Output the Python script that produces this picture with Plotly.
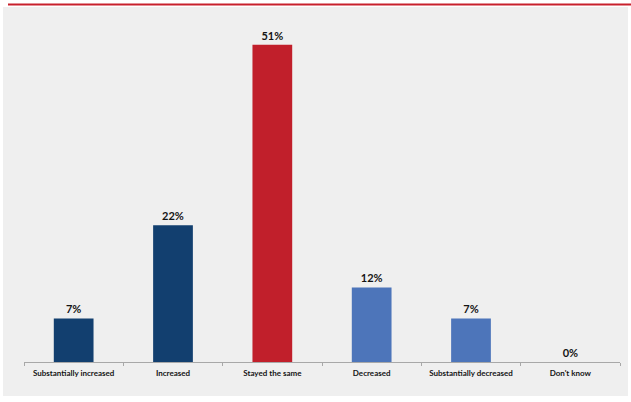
import plotly.graph_objects as go

categories = ["Substantially increased", "Increased", "Stayed the same",
              "Decreased", "Substantially decreased", "Don't know"]
values = [7, 22, 51, 12, 7, 0]
bar_colors = ["#123f6f", "#123f6f", "#c11f2b", "#4d75ba", "#4d75ba", "#4d75ba"]

W, H = 631, 402
ML, MR, MT, MB = 24, 11, 20, 40
PW, PH = W - ML - MR, H - MT - MB


def px_x(x):
    return (x - ML) / PW


def px_y(y):
    return (H - MB - y) / PH


fig = go.Figure(
    go.Bar(
        x=categories,
        y=values,
        marker=dict(color=bar_colors, line=dict(width=0)),
        texttemplate="%{y}%",
        textposition="outside",
        textfont=dict(family="Lato, Liberation Sans, sans-serif", size=11, color="#141414",
                      weight="bold"),
        cliponaxis=False,
        width=0.4,
    )
)

# grey panel and red rule across the top
fig.add_shape(type="rect", xref="paper", yref="paper",
              x0=px_x(3), x1=px_x(628), y0=px_y(396), y1=px_y(7),
              fillcolor="#efefef", line=dict(width=0), layer="below")
fig.add_shape(type="line", xref="paper", yref="paper",
              x0=px_x(8), x1=px_x(631), y0=px_y(4.5), y1=px_y(4.5),
              line=dict(color="#c8202c", width=2))

fig.update_layout(
    width=W, height=H,
    margin=dict(l=ML, r=MR, t=MT, b=MB),
    paper_bgcolor="white",
    plot_bgcolor="rgba(0,0,0,0)",
    showlegend=False,
    xaxis=dict(
        showline=True, linecolor="#a8a8a8", linewidth=1,
        ticks="outside", ticklen=3, tickcolor="#a8a8a8",
        tickson="boundaries",
        ticklabelstandoff=3,
        tickfont=dict(family="Lato, Liberation Sans, sans-serif", size=8, color="#141414",
                      weight="bold"),
        showgrid=False,
    ),
    yaxis=dict(range=[0, 55], visible=False, showgrid=False),
)

fig.write_html("out.html")
